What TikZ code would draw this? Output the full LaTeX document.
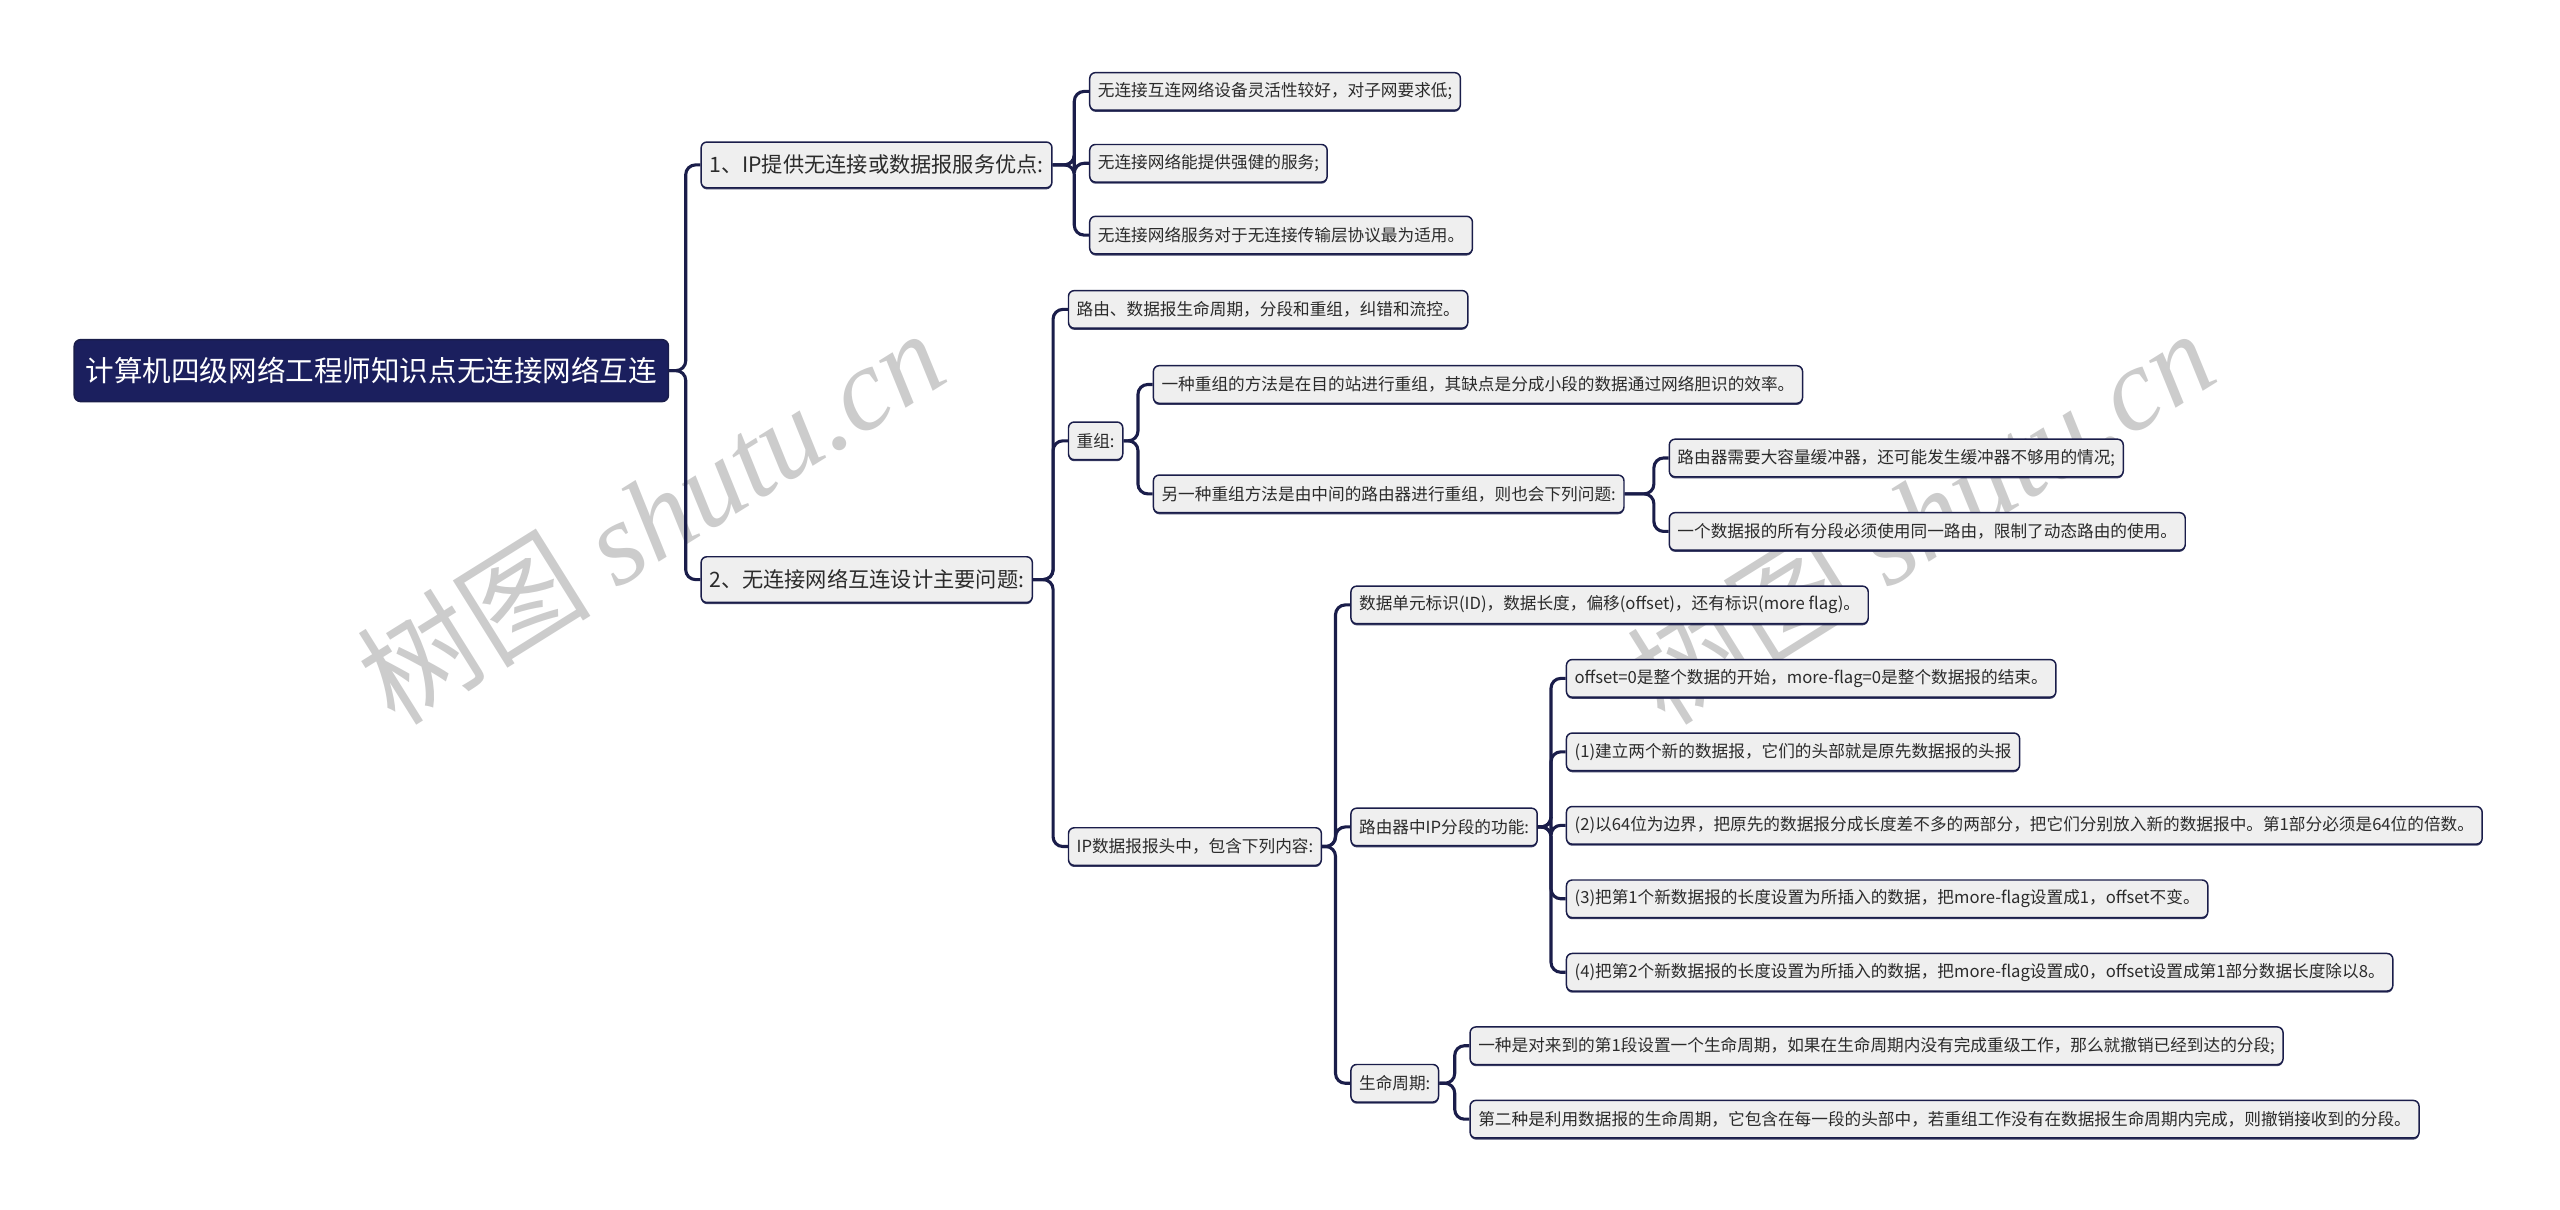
\documentclass[tikz,border=0pt]{standalone}
\usepackage{fontspec}
\newfontfamily\cjk{Noto Sans CJK SC}
\newfontfamily\wmserif{Liberation Serif}
\usetikzlibrary{shadows}
\definecolor{navy}{HTML}{1B1F5E}
\definecolor{edgec}{HTML}{1A1D4A}
\definecolor{leaffill}{HTML}{EFEFEF}
\definecolor{txt}{HTML}{2B2B2B}
\tikzset{
  base/.style={draw=edgec, line width=0.9pt, fill=leaffill, rounded corners=3.5pt,
    anchor=west, text=txt, inner xsep=5pt, inner ysep=0pt,
    drop shadow={shadow xshift=0pt, shadow yshift=-1pt, fill=edgec, opacity=0.85}},
  leaf/.style={base, font=\cjk\fontsize{10.2}{12}\selectfont, minimum height=23pt},
  lone/.style={base, font=\cjk\fontsize{13}{15}\selectfont, minimum height=28pt},
  rootbox/.style={draw=edgec, line width=0.9pt, fill=navy, rounded corners=4pt, anchor=west,
    text=white, font=\cjk\fontsize{17.5}{20}\selectfont, minimum height=38pt, inner xsep=7pt, inner ysep=0pt},
  edge/.style={draw=edgec, line width=1.9pt, rounded corners=6pt},
  wm/.style={text=black!20, rotate=32, inner sep=0pt}
}
\newcommand{\link}[2]{\draw[edge] (#1.east) -| ([xshift=-9pt]#2.west) -- (#2.west);}
\begin{document}
\begin{tikzpicture}[x=1pt,y=-1pt]
\useasboundingbox (0,0) rectangle (1568,741.1);
% watermarks
\node[wm] (wm1) at (398,316) {\cjk\fontsize{72}{72}\selectfont 树图 \wmserif\itshape shutu.cn};
\node[wm] (wm2) at (1176,316) {\cjk\fontsize{72}{72}\selectfont 树图 \wmserif\itshape shutu.cn};
% nodes
\node[rootbox] (root) at (45,227) {计算机四级网络工程师知识点无连接网络互连};
\node[lone] (la) at (429,101) {1、IP提供无连接或数据报服务优点:};
\node[lone] (lb) at (429,355) {2、无连接网络互连设计主要问题:};
\node[leaf] (a1) at (667,56) {无连接互连网络设备灵活性较好，对子网要求低;};
\node[leaf] (a2) at (667,100) {无连接网络能提供强健的服务;};
\node[leaf] (a3) at (667,144) {无连接网络服务对于无连接传输层协议最为适用。};
\node[leaf] (b1) at (654,189.5) {路由、数据报生命周期，分段和重组，纠错和流控。};
\node[leaf] (b2) at (654,270) {重组:};
\node[leaf] (b3) at (654,518.5) {IP数据报报头中，包含下列内容:};
\node[leaf] (c1) at (706,235.5) {一种重组的方法是在目的站进行重组，其缺点是分成小段的数据通过网络胆识的效率。};
\node[leaf] (c2) at (706,302.5) {另一种重组方法是由中间的路由器进行重组，则也会下列问题:};
\node[leaf] (d1) at (1022,280.5) {路由器需要大容量缓冲器，还可能发生缓冲器不够用的情况;};
\node[leaf] (d2) at (1022,325.5) {一个数据报的所有分段必须使用同一路由，限制了动态路由的使用。};
\node[leaf] (e1) at (827,370.5) {数据单元标识(ID)，数据长度，偏移(offset)，还有标识(more flag)。};
\node[leaf] (e2) at (827,506.5) {路由器中IP分段的功能:};
\node[leaf] (e3) at (827,663.5) {生命周期:};
\node[leaf] (f1) at (959,415.5) {offset=0是整个数据的开始，more-flag=0是整个数据报的结束。};
\node[leaf] (f2) at (959,460.5) {(1)建立两个新的数据报，它们的头部就是原先数据报的头报};
\node[leaf] (f3) at (959,505.5) {(2)以64位为边界，把原先的数据报分成长度差不多的两部分，把它们分别放入新的数据报中。第1部分必须是64位的倍数。};
\node[leaf] (f4) at (959,550.5) {(3)把第1个新数据报的长度设置为所插入的数据，把more-flag设置成1，offset不变。};
\node[leaf] (f5) at (959,595.5) {(4)把第2个新数据报的长度设置为所插入的数据，把more-flag设置成0，offset设置成第1部分数据长度除以8。};
\node[leaf] (g1) at (900,640.5) {一种是对来到的第1段设置一个生命周期，如果在生命周期内没有完成重级工作，那么就撤销已经到达的分段;};
\node[leaf] (g2) at (900,685.5) {第二种是利用数据报的生命周期，它包含在每一段的头部中，若重组工作没有在数据报生命周期内完成，则撤销接收到的分段。};
% connectors
\link{root}{la}\link{root}{lb}
\link{la}{a1}\link{la}{a2}\link{la}{a3}
\link{lb}{b1}\link{lb}{b2}\link{lb}{b3}
\link{b2}{c1}\link{b2}{c2}
\link{c2}{d1}\link{c2}{d2}
\link{b3}{e1}\link{b3}{e2}\link{b3}{e3}
\link{e2}{f1}\link{e2}{f2}\link{e2}{f3}\link{e2}{f4}\link{e2}{f5}
\link{e3}{g1}\link{e3}{g2}
\end{tikzpicture}
\end{document}
